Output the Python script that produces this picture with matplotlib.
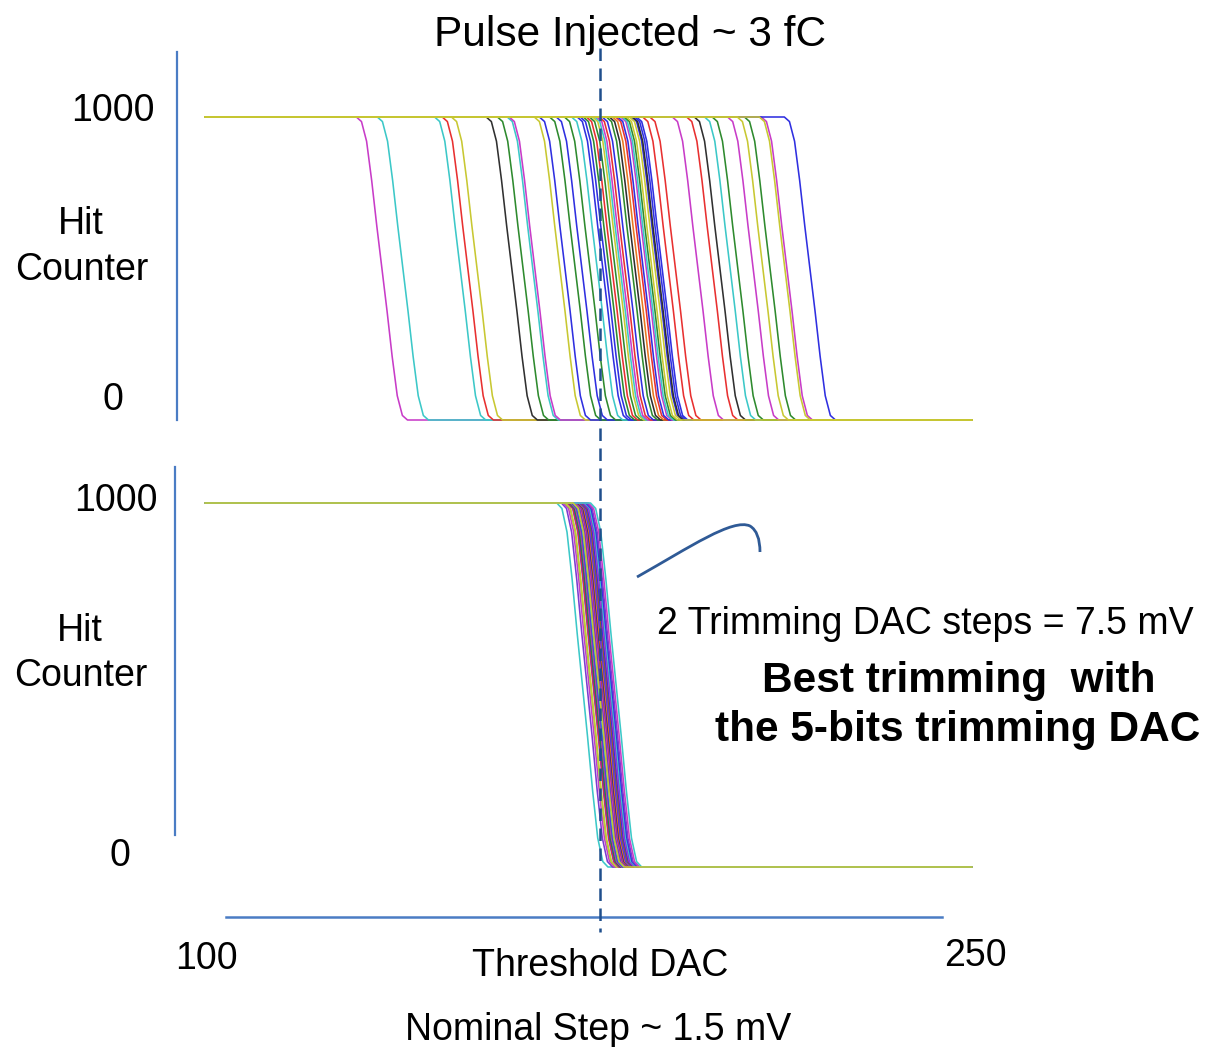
import numpy as np
import matplotlib
matplotlib.use("Agg")
import matplotlib.pyplot as plt
from matplotlib import transforms
from matplotlib.path import Path
from matplotlib.patches import PathPatch

plt.rcParams['font.family'] = ['Liberation Sans', 'DejaVu Sans']

# threshold DAC range of the scan
dac_min, dac_max = 100, 250
# S-curve shape: hit counts vs offset (DAC) from the 50% point
profile_offset = [-5, -4, -3, -2, -1, 0, 1, 2, 3, 4, 5]
profile_hits = [1000, 985, 920, 790, 640, 500, 360, 210, 80, 15, 0]

# 50% points of each channel, before trimming
top_mid = [134.6, 138.7, 149.9, 151.4, 153.2, 160.0, 162.2, 164.1, 164.5, 169.4,
           170.4, 172.4, 173.7, 175.3, 176.7, 177.8, 178.4, 179.0, 179.6, 180.2,
           180.8, 181.2, 181.6, 182.1, 182.7, 183.5, 184.1, 184.7, 185.3, 185.7,
           186.3, 186.6, 187.0, 187.4, 188.4, 188.6, 189.0, 189.4, 190.6, 192.0,
           196.4, 199.2, 200.7, 202.7, 204.2, 207.2, 210.5, 213.8, 218.3, 213.4,
           209.1, 188.0]
top_col = ['m', 'c', 'c', 'r', 'y', 'k', 'g', 'c', 'm', 'y',
           'b', 'g', 'b', 'g', 'c', 'b', 'b', 'g', 'r', 'g',
           'y', 'c', 'm', 'r', 'b', 'g', 'k', 'o', 'r', 'b',
           'm', 'c', 'g', 'y', 'b', 'k', 'b', 'b', 'r', 'r',
           'm', 'r', 'k', 'c', 'g', 'm', 'g', 'm', 'b', 'y',
           'y', 'y']

# 50% points after trimming
bot_mid = [173.8, 174.7, 175.1, 175.4, 175.5, 175.9, 176.0, 176.2, 176.3, 176.5,
           176.6, 176.6, 176.8, 176.9, 177.1, 177.1, 177.2, 177.4, 177.4, 177.5,
           177.7, 177.7, 177.8, 178.0, 178.0, 178.1, 178.3, 178.3, 178.4, 178.6,
           178.7, 178.8, 179.0, 179.1, 179.3, 179.5, 179.7, 180.0, 180.4, 177.0]
bot_col = ['c', 'p', 'm', 'l', 'y', 'p', 'r', 'b', 'g', 'm',
           'o', 'p', 'b', 'c', 'r', 'k', 'p', 'o', 'b', 'm',
           'g', 'r', 'p', 'b', 'k', 'o', 'm', 'b', 'p', 'g',
           'r', 'b', 'm', 'p', 'c', 'b', 'p', 'm', 'c', 'y']

ref_dac = 177.3

palette = {'b': '#2f2fe0', 'g': '#2e8a2e', 'r': '#e83030', 'c': '#3cc8c8',
           'm': '#c83cc8', 'y': '#c8c832', 'k': '#303030', 'o': '#e87820',
           'p': '#7a3cd0', 'l': '#8cd040'}


def scurve(mid):
    x = np.concatenate([[dac_min], mid + np.array(profile_offset), [dac_max]])
    y = np.concatenate([[profile_hits[0]], profile_hits, [profile_hits[-1]]])
    return x, y


W, H = 1205, 1047
fig = plt.figure(figsize=(W / 100, H / 100), dpi=100)

ax_top = fig.add_axes([205 / W, 1 - 420 / H, 767 / W, 303 / H])
ax_bot = fig.add_axes([205 / W, 1 - 867 / H, 767 / W, 364 / H])
for ax, mids, cols in [(ax_top, top_mid, top_col), (ax_bot, bot_mid, bot_col)]:
    for m, c in zip(mids, cols):
        x, y = scurve(m)
        ax.plot(x, y, color=palette[c], lw=1.15, clip_on=False)
    ax.set_xlim(dac_min, dac_max)
    ax.set_ylim(0, 1000)
    ax.axis('off')

# overlay in pixel units for the slide decorations
ov = fig.add_axes([0, 0, 1, 1], zorder=5)
ov.set_xlim(0, W)
ov.set_ylim(H, 0)
ov.axis('off')

axis_blue = '#4a7cc4'
ov.plot([177, 177], [52, 420], color=axis_blue, lw=1.6)
ov.plot([175, 175], [467, 835], color=axis_blue, lw=1.6)
ov.plot([226, 942], [917, 917], color=axis_blue, lw=1.8)

# dashed reference line at the target threshold
tr = transforms.blended_transform_factory(ax_top.transData, ov.transData)
ov.plot([ref_dac, ref_dac], [48, 932], transform=tr, color='#1f4e8c', lw=1.8,
        ls=(0, (5, 3)))

# hand drawn bracket
verts = [(637, 577), (690, 547), (733, 518), (750, 526), (760, 532), (760, 552)]
codes = [Path.MOVETO, Path.CURVE4, Path.CURVE4, Path.CURVE4, Path.CURVE3, Path.CURVE3]
ov.add_patch(PathPatch(Path(verts, codes), fill=False, ec='#2f5a96', lw=2.0))

fs = 27
dy = 3
labels = [
    (630, 32, "Pulse Injected ~ 3 fC", 30.5),
    (113, 108, "1000", fs), (113, 397, "0", fs),
    (81, 221, "Hit", fs), (82, 267, "Counter", fs),
    (116, 498, "1000", fs), (120, 853, "0", fs),
    (80, 628, "Hit", fs), (81, 673, "Counter", fs),
    (206, 956, "100", fs), (975, 953, "250", fs),
    (600, 963, "Threshold DAC", fs),
    (598, 1027, "Nominal Step ~ 1.5 mV", fs),
    (925, 621, "2 Trimming DAC steps = 7.5 mV", fs),
]
for x, y, s, size in labels:
    ov.text(x, y + dy, s, fontsize=size, ha='center', va='center')
ov.text(959, 678 + dy, "Best trimming  with", fontsize=30.5, fontweight='bold',
        ha='center', va='center')
ov.text(958, 727 + dy, "the 5-bits trimming DAC", fontsize=30.5, fontweight='bold',
        ha='center', va='center')

fig.savefig("out.png", dpi=100)
